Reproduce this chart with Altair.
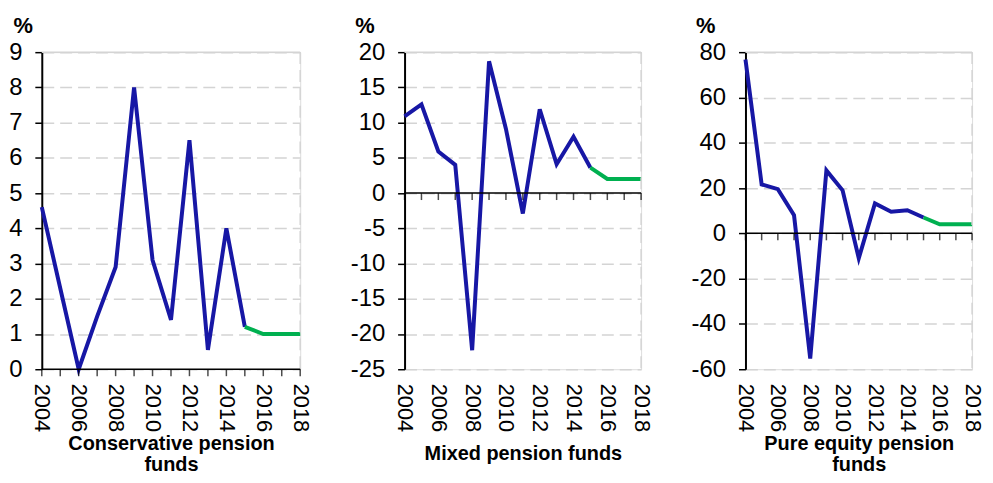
import altair as alt
import pandas as pd

years = list(range(2004, 2019))
conservative = [4.6, 2.3, 0.0, 1.5, 2.9, 8.0, 3.1, 1.4, 6.5, 0.55, 4.0, 1.2, 1.0, 1.0, 1.0]
mixed = [10.9, 12.6, 5.9, 4.0, -22.3, 18.7, 9.1, -2.9, 11.9, 4.1, 8.0, 3.6, 2.0, 2.0, 2.0]
equity = [76.8, 21.6, 19.5, 8.0, -55.3, 27.8, 19.0, -11.0, 13.2, 9.5, 10.2, 7.0, 4.0, 4.0, 4.0]
split_year = 2015

titles = [["Conservative pension", "funds"], "Mixed pension funds", ["Pure equity pension", "funds"]]
y_ticks = [list(range(0, 10)), list(range(-25, 25, 5)), list(range(-60, 100, 20))]
x_labels = list(range(2004, 2019, 2))
widths = [260, 238, 228]

BLUE = "#1717A5"
GREEN = "#00B050"
GRID = "#D4D4D4"
FONT = "Liberation Sans"


def panel(values, title, yt, width, tpad):
    rows = []
    for y, v in zip(years, values):
        if y <= split_year:
            rows.append({"year": y, "value": v, "seg": "actual"})
        if y >= split_year:
            rows.append({"year": y, "value": v, "seg": "projection"})
    df = pd.DataFrame(rows)
    ymin, ymax = yt[0], yt[-1]
    xsc = alt.Scale(domain=[years[0], years[-1]], nice=False, zero=False)
    ysc = alt.Scale(domain=[ymin, ymax], nice=False, zero=False)
    xaxis = alt.Axis(values=x_labels, format="d", labelAngle=90, labelFontSize=22,
                     labelFont=FONT, labelColor="black", domain=False, ticks=False,
                     grid=False, labelPadding=14, labelOverlap=False,
                     title=title, titleFont=FONT,
                     titleFontSize=20, titleFontWeight="bold", titleColor="black",
                     titlePadding=tpad, titleLineHeight=21)
    yaxis = alt.Axis(values=yt, labelFontSize=24, labelFont=FONT, labelColor="black",
                     labelExpr="toString(datum.value)", labelOverlap=False,
                     domainColor="black", domainWidth=2, tickColor="black", tickSize=7,
                     tickWidth=1.5, labelPadding=13, title=None, grid=True,
                     gridColor=GRID, gridDash=[12, 6], gridWidth=1.5)

    line = alt.Chart(df).mark_line(strokeWidth=4).encode(
        x=alt.X("year:Q", scale=xsc, axis=xaxis),
        y=alt.Y("value:Q", scale=ysc, axis=yaxis),
        color=alt.Color("seg:N", scale=alt.Scale(domain=["actual", "projection"], range=[BLUE, GREEN]),
                        legend=None),
        detail="seg:N",
    )
    top = alt.Chart().mark_rule(color=GRID, strokeWidth=1.5).encode(
        y=alt.YDatum(ymax, axis=yaxis, scale=ysc))
    right = alt.Chart().mark_rule(color=GRID, strokeWidth=1.5, strokeDash=[12, 6]).encode(
        x=alt.XDatum(years[-1], axis=xaxis, scale=xsc))
    zero = alt.Chart().mark_rule(color="black", strokeWidth=1.5).encode(
        y=alt.YDatum(0, axis=yaxis, scale=ysc))
    tdf = pd.DataFrame({"year": years, "zero": [0] * len(years)})
    ticks = alt.Chart(tdf).mark_tick(orient="vertical", size=7, thickness=1.5, yOffset=3.5,
                                     color="black").encode(
        x=alt.X("year:Q", axis=xaxis, scale=xsc), y=alt.Y("zero:Q", axis=yaxis, scale=ysc))
    return alt.layer(line, top, right, zero, ticks).properties(
        width=width, height=319,
        title=alt.TitleParams("%", anchor="start", frame="bounds", fontSize=22, font=FONT,
                              fontWeight="bold", color="black", offset=2, dx=5),
    )


chart = alt.hconcat(
    panel(conservative, titles[0], y_ticks[0], widths[0], 2),
    panel(mixed, titles[1], y_ticks[1], widths[1], 12),
    panel(equity, titles[2], y_ticks[2], widths[2], 2),
    spacing=37,
).configure_view(stroke=None).configure_axis(labelOverlap=False).configure(
    background="white", padding={"left": 0, "top": 5, "right": 1, "bottom": 0})

chart.save("out.html", embed_options={"renderer": "svg", "actions": False})
